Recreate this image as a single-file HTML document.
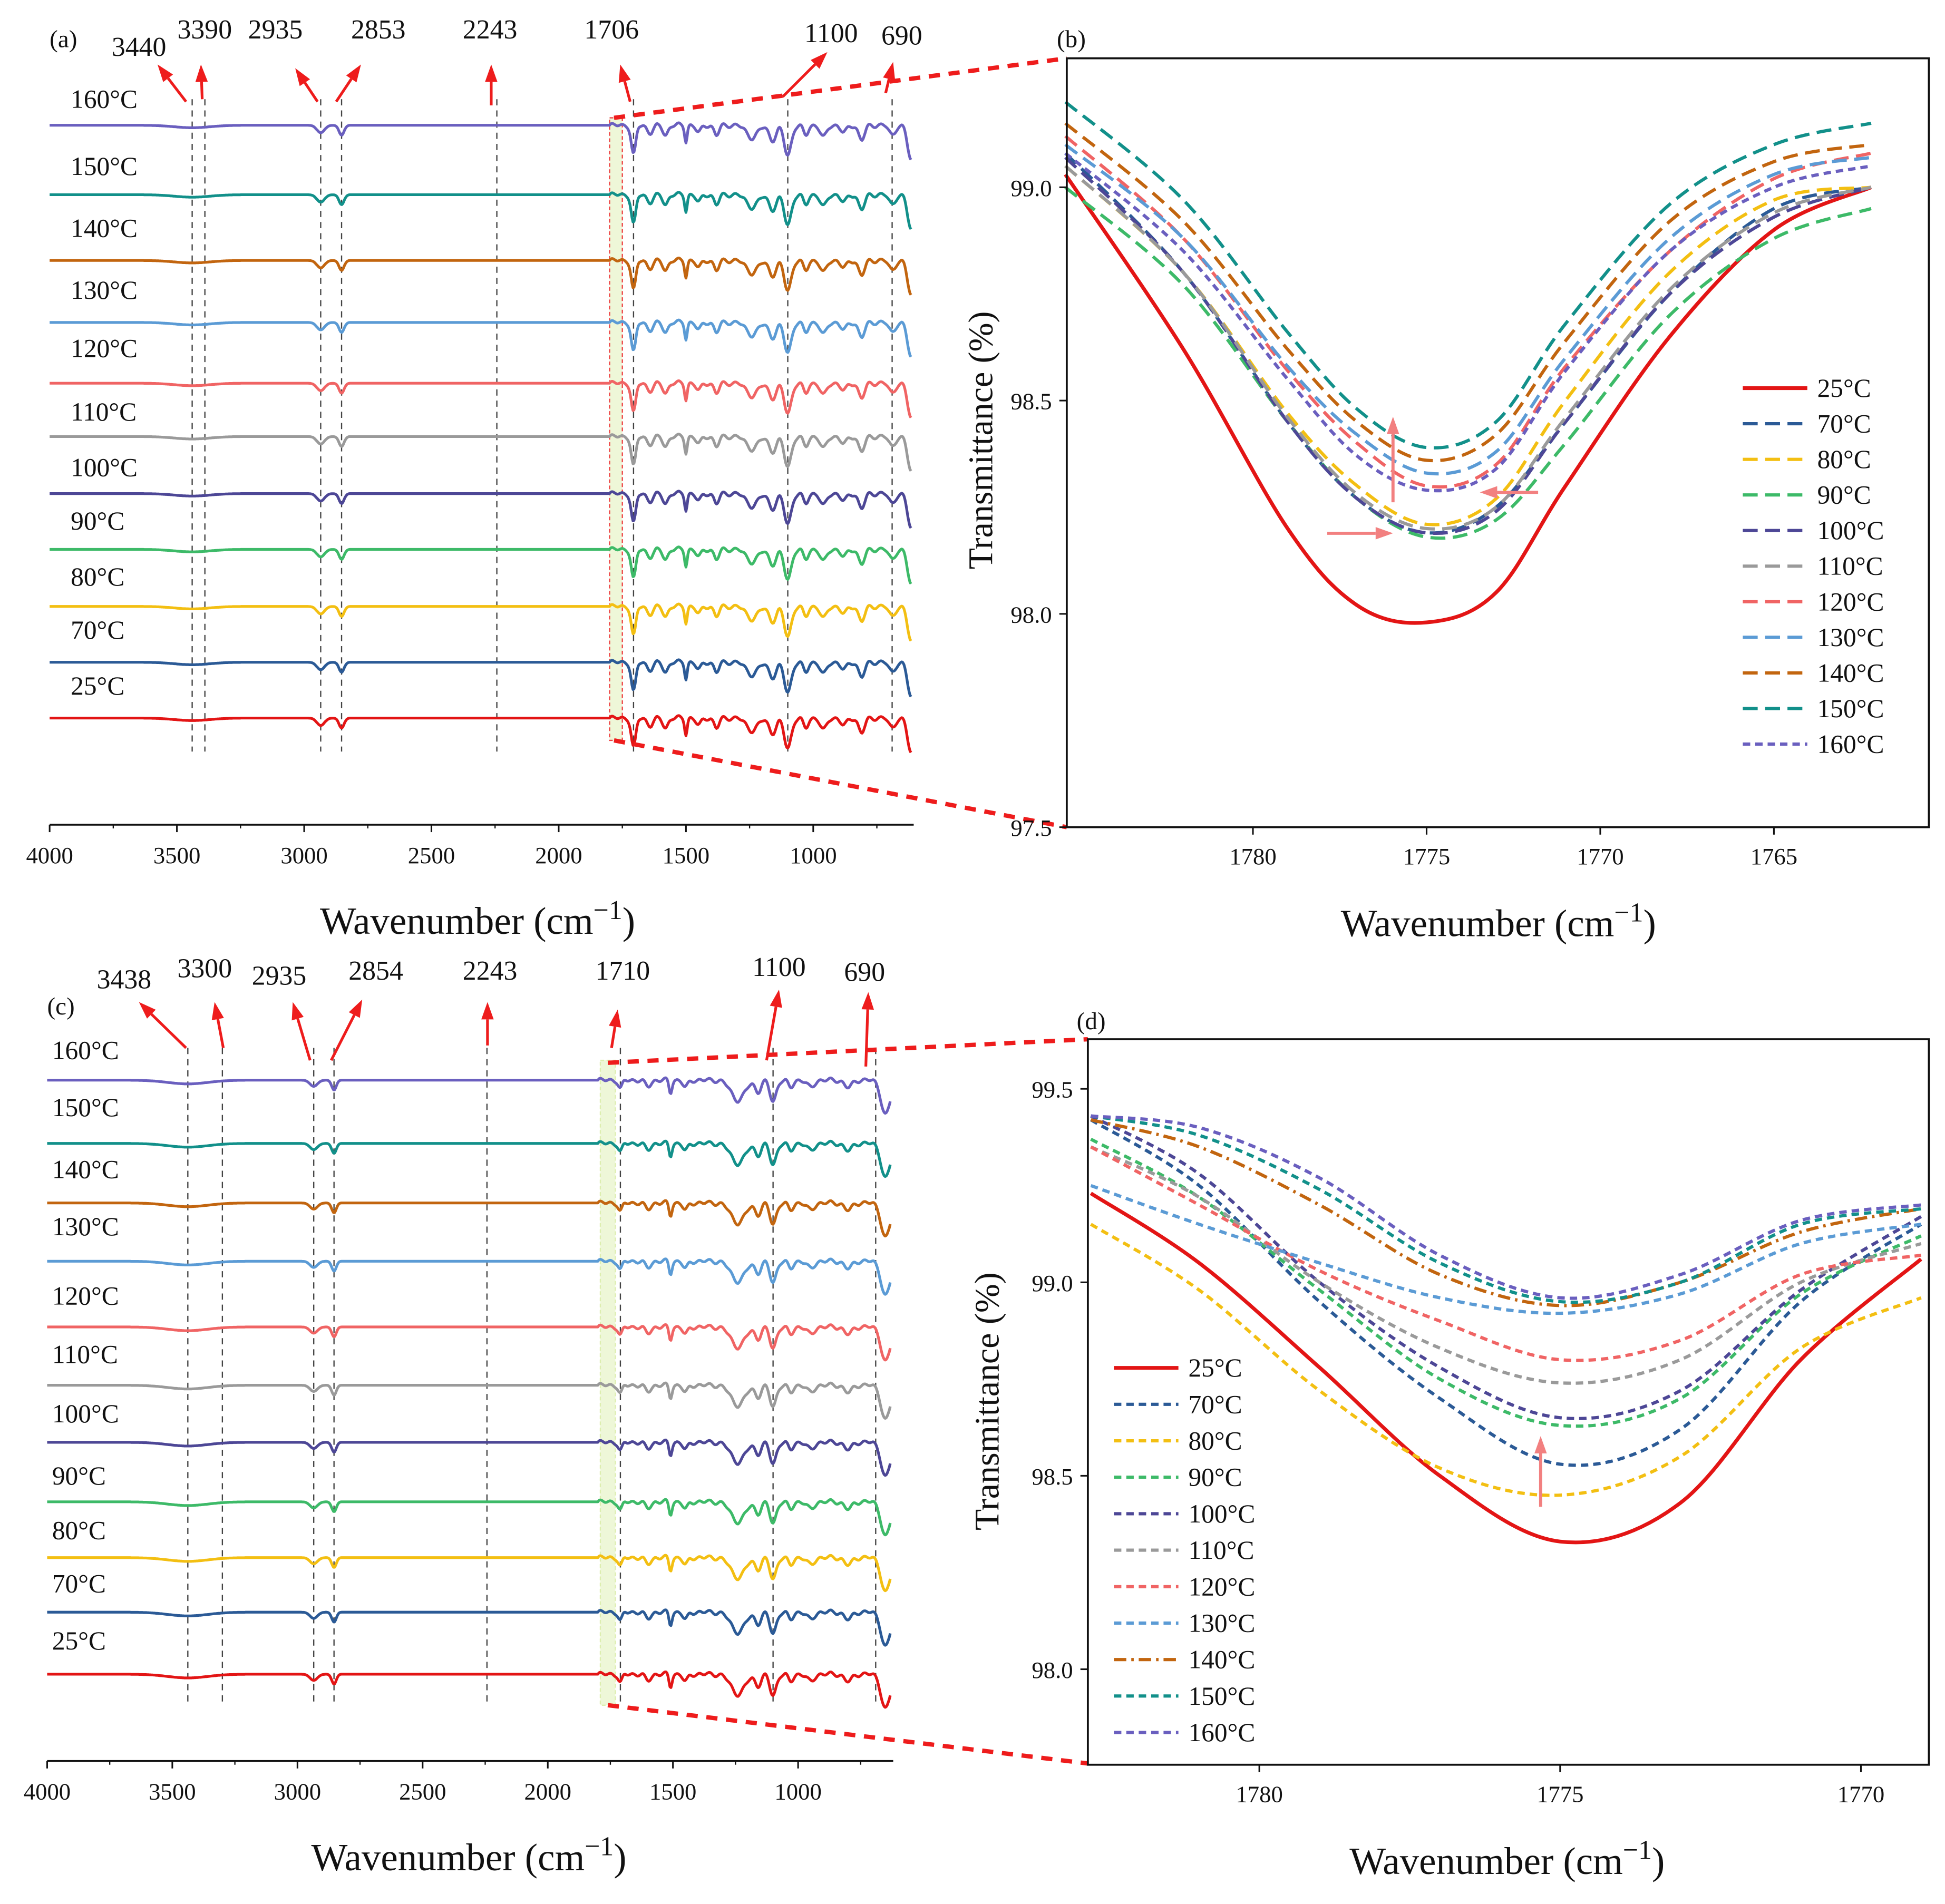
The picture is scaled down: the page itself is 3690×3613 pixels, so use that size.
<!DOCTYPE html>
<html><head><meta charset="utf-8"><style>
html,body{margin:0;padding:0;background:#fff;}
svg{display:block;font-family:"Liberation Serif",serif;}
</style></head><body>
<svg id="fig" width="3690" height="3613" viewBox="0 0 1568 1535.3" xmlns="http://www.w3.org/2000/svg"></svg>
<script>
// ---------- DATA ----------
const temps = ["160°C","150°C","140°C","130°C","120°C","110°C","100°C","90°C","80°C","70°C","25°C"];
const colors = ["#6a5fbf","#12908a","#c2650f","#5b9bd5","#f06464","#9a9a9a","#4d4796","#3dba68","#f3bf12","#2b5a96","#e31515"];
const aFeatWn = [3440,2935,2853,1706,1640,1580,1500,1450,1380,1240,1160,1100,1030,960,880,810,690,615];
const aFeatDepth = [2,6,8,24,6,8,13,6,8,10,12,24,8,10,6,12,8,28];
const aFeatWidth = [70,15,10,9,12,10,5,10,10,22,14,14,10,12,12,12,12,14];
const cFeatWn = [3438,2935,2854,1710,1600,1510,1450,1240,1160,1100,1030,950,800,650];
const cFeatDepth = [3,5,8,7,5,10,6,16,9,17,6,6,6,28];
const cFeatWidth = [80,15,9,8,12,6,10,28,12,13,10,14,15,18];
const aTicks=[4000,3500,3000,2500,2000,1500,1000];
const aMarks=[3440,3390,2935,2853,2243,1706,1100,690];
const cMarks=[3438,3300,2935,2854,2243,1710,1100,690];
const bX=[1785.4,1782,1779,1777,1775,1773,1771,1768,1765,1762.2];
const bLegend=["25°C","70°C","80°C","90°C","100°C","110°C","120°C","130°C","140°C","150°C","160°C"];
const bColors=["#e31515","#2b5a96","#f3bf12","#3dba68","#4d4796","#9a9a9a","#f06464","#5b9bd5","#c2650f","#12908a","#6a5fbf"];
const b25=[99.03,98.62,98.2,98.02,97.98,98.05,98.3,98.65,98.9,99.0];
const b70=[99.08,98.8,98.45,98.27,98.19,98.25,98.45,98.75,98.95,99.0];
const b80=[99.05,98.8,98.47,98.3,98.21,98.27,98.5,98.8,98.97,99.0];
const b90=[99.0,98.77,98.45,98.27,98.18,98.22,98.4,98.7,98.88,98.95];
const b100=[99.07,98.8,98.45,98.27,98.19,98.24,98.45,98.75,98.93,99.0];
const b110=[99.05,98.8,98.46,98.28,98.2,98.25,98.46,98.76,98.94,99.0];
const b120=[99.12,98.88,98.57,98.4,98.3,98.35,98.58,98.85,99.02,99.08];
const b130=[99.1,98.88,98.58,98.42,98.33,98.38,98.6,98.88,99.03,99.07];
const b140=[99.15,98.92,98.62,98.45,98.36,98.42,98.64,98.92,99.06,99.1];
const b150=[99.2,98.97,98.66,98.48,98.39,98.45,98.68,98.96,99.1,99.15];
const b160=[99.08,98.85,98.55,98.37,98.29,98.34,98.57,98.85,99.0,99.05];
const bTicksX=[1780,1775,1770,1765];
const bTicksY=[97.5,98.0,98.5,99.0];
const dX=[1782.8,1781,1779,1777,1775,1773,1771,1769];
const d25=[99.23,99.05,98.78,98.5,98.33,98.43,98.8,99.06];
const d70=[99.42,99.25,98.95,98.7,98.53,98.62,98.95,99.15];
const d80=[99.15,98.98,98.72,98.52,98.45,98.55,98.83,98.96];
const d90=[99.37,99.22,98.98,98.75,98.63,98.7,98.97,99.12];
const d100=[99.43,99.28,99.0,98.78,98.65,98.72,98.98,99.17];
const d110=[99.35,99.22,99.0,98.83,98.74,98.8,99.0,99.1];
const d120=[99.35,99.2,99.03,98.9,98.8,98.85,99.02,99.07];
const d130=[99.25,99.15,99.05,98.96,98.92,98.97,99.1,99.15];
const d140=[99.42,99.35,99.2,99.02,98.94,99.0,99.13,99.19];
const d150=[99.43,99.38,99.24,99.05,98.95,99.0,99.15,99.19];
const d160=[99.43,99.4,99.27,99.07,98.96,99.02,99.16,99.2];
const dTicksX=[1780,1775,1770];
const dTicksY=[98.0,98.5,99.0,99.5];

const NS="http://www.w3.org/2000/svg";
const svg=document.getElementById('fig');
function el(tag,attrs,parent){const e=document.createElementNS(NS,tag);for(const k in attrs)e.setAttribute(k,attrs[k]);(parent||svg).appendChild(e);return e;}
function txt(x,y,s,size,anchor,parent){const t=el('text',{x:x,y:y,'font-size':size,'text-anchor':anchor||'start',fill:'#111'},parent);t.textContent=s;return t;}
function smooth(pts){let d='M'+pts[0][0]+','+pts[0][1];for(let i=0;i<pts.length-1;i++){const p0=pts[Math.max(0,i-1)],p1=pts[i],p2=pts[i+1],p3=pts[Math.min(pts.length-1,i+2)];d+=' C'+(p1[0]+(p2[0]-p0[0])/6)+','+(p1[1]+(p2[1]-p0[1])/6)+' '+(p2[0]-(p3[0]-p1[0])/6)+','+(p2[1]-(p3[1]-p1[1])/6)+' '+p2[0]+','+p2[1];}return d;}
function arrow(x1,y1,x2,y2,color,w,parent){
  const g=el('g',{},parent);
  const ang=Math.atan2(y2-y1,x2-x1),L=14,W=5;
  const bx=x2-L*Math.cos(ang),by=y2-L*Math.sin(ang);
  el('line',{x1:x1,y1:y1,x2:bx,y2:by,stroke:color,'stroke-width':w},g);
  el('polygon',{points:x2+','+y2+' '+(bx+W*Math.sin(ang))+','+(by-W*Math.cos(ang))+' '+(bx-W*Math.sin(ang))+','+(by+W*Math.cos(ang)),fill:color},g);
  return g;
}

function spectraPanel(cfg){
  const g=el('g',{});
  
  
  const X=w=>cfg.x0+(4000-w)*cfg.k;
  const hb=el('rect',{x:X(cfg.hl[0]),y:cfg.hy[0],width:X(cfg.hl[1])-X(cfg.hl[0]),height:cfg.hy[1]-cfg.hy[0],fill:'#eef7d8',stroke:cfg.hlStroke,'stroke-width':1,'stroke-dasharray':'3,2'},g);
  
  
  cfg.marks.forEach((m,i)=>{
    const l=el('line',{x1:X(m),x2:X(m),y1:cfg.lineY[0],y2:cfg.lineY[1],stroke:'#444','stroke-width':1,'stroke-dasharray':'5,4'},g);
    
    
  });
  temps.forEach((t,i)=>{
    const base=cfg.bases[i];
    let d='';
    for(let w=4000;w>=cfg.wEnd;w-=4){
      let off=0;
      cfg.fw.forEach((fw,j)=>{const z=(w-fw)/cfg.fwid[j];off+=cfg.fd[j]*Math.exp(-z*z/2);});
      if(w<1800) off+= 1.2*Math.sin(w/7)+0.8*Math.sin(w/13);
      d+=(d?'L':'M')+X(w).toFixed(1)+','+(base+off).toFixed(1);
    }
    const p=el('path',{d:d,fill:'none',stroke:colors[i],'stroke-width':2.2,'stroke-linejoin':'round'},g);
    
    
    const lb=txt(cfg.labX,cfg.labY[i],t,21,'start',g);
    
    
  });
  el('line',{x1:cfg.x0,x2:X(cfg.wEnd)+2,y1:cfg.axY,y2:cfg.axY,stroke:'#111','stroke-width':1.5},g);
  aTicks.forEach(t=>{
    el('line',{x1:X(t),x2:X(t),y1:cfg.axY,y2:cfg.axY+6,stroke:'#111','stroke-width':1.3},g);
    el('line',{x1:X(t-250),x2:X(t-250),y1:cfg.axY,y2:cfg.axY+3,stroke:'#111','stroke-width':1},g);
    const tl=txt(X(t),cfg.axY+31,String(t),19,'middle',g);
    
    
  });
  const at=el('text',{x:cfg.titleX,y:cfg.axY+88,'font-size':31,'text-anchor':'middle',fill:'#111'},g);
  at.innerHTML='Wavenumber (cm<tspan dy="-12" font-size="22">−1</tspan><tspan dy="12">)</tspan>';
  
  
  cfg.arrows.forEach((a,i)=>{
    const ag=arrow(a[0],a[1],a[2],a[3],'#ee1c1c',2.2,g);
    
    
    const lt=txt(a[4],a[5],String(cfg.marks[i]),22,'middle',g);
    
    
  });
  const pl=txt(cfg.panel[0],cfg.panel[1],cfg.panel[2],20,'start',g);
  
  
  cfg.zoom.forEach(z=>el('line',{x1:z[0],y1:z[1],x2:z[2],y2:z[3],stroke:'#ee1c1c','stroke-width':3.5,'stroke-dasharray':'9,7'},g));
}

spectraPanel({name:'panel-a',x0:40,k:0.2052,wEnd:615,axY:665,titleX:385,
  bases:[101,157,210,260,309,352,398,443,489,534,579],
  labY:[87,141,191,241,288,339,384,427,472,515,560],labX:57,
  fw:aFeatWn,fd:aFeatDepth,fwid:aFeatWidth,marks:aMarks,lineY:[80,606],
  hl:[1800,1750],hy:[95,597],hlStroke:'#ee4444',
  arrows:[[150,82,127,52,112,45],[163,80,162,52,165,31],[256,82,238,55,222,31],[271,82,291,52,305,31],[396,85,396,52,395,31],[508,82,500,52,493,31],[631,78,667,42,670,34],[714,75,720,50,727,36]],
  panel:[40,38,'(a)'],zoom:[[495,95,860,47],[495,597,860,667]]});

spectraPanel({name:'panel-c',x0:38,k:0.2018,wEnd:630,axY:1420,titleX:378,
  bases:[871,922,970,1017,1070,1117,1163,1211,1256,1300,1350],
  labY:[854,900,950,996,1052,1099,1147,1197,1241,1284,1330],labX:42,
  fw:cFeatWn,fd:cFeatDepth,fwid:cFeatWidth,marks:cMarks,lineY:[845,1376],
  hl:[1790,1730],hy:[855,1375],hlStroke:'#ddeeb0',
  arrows:[[150,845,112,808,100,797],[180,845,173,808,165,788],[250,855,236,808,225,794],[267,855,292,806,303,790],[393,843,393,808,395,790],[493,845,498,814,502,790],[618,855,628,798,628,787],[698,860,700,800,697,791]],
  panel:[38,818,'(c)'],zoom:[[490,857,877,838],[490,1375,877,1422]]});

function zoomPanel(cfg){
  const g=el('g',{});
  
  
  const X=v=>cfg.x0+(cfg.xmax-v)*cfg.kx;
  const Y=v=>cfg.y0-(v-cfg.ybase)*cfg.ky;
  cfg.series.forEach((s,i)=>{
    const pts=cfg.xs.map((x,j)=>[X(x),Y(s[j])]);
    const p=el('path',{d:smooth(pts),fill:'none',stroke:bColors[i],'stroke-width':i==0?3:2.6,'stroke-dasharray':cfg.dash[i]},g);
    
    
    const ly=cfg.legY+i*cfg.legStep;
    const ll=el('line',{x1:cfg.legX,x2:cfg.legX+52,y1:ly,y2:ly,stroke:bColors[i],'stroke-width':i==0?3:2.6,'stroke-dasharray':cfg.dash[i]},g);
    
    
    const lt=txt(cfg.legX+60,ly+7,bLegend[i],21,'start',g);
    
    
  });
  const fr=el('rect',{x:cfg.box[0],y:cfg.box[1],width:cfg.box[2]-cfg.box[0],height:cfg.box[3]-cfg.box[1],fill:'none',stroke:'#111','stroke-width':1.6},g);
  
  
  cfg.tx.forEach(t=>{
    el('line',{x1:X(t),x2:X(t),y1:cfg.box[3],y2:cfg.box[3]+6,stroke:'#111','stroke-width':1.3},g);
    const tl=txt(X(t),cfg.box[3]+30,String(t),19,'middle',g);
    
    
  });
  cfg.ty.forEach(t=>{
    el('line',{x1:cfg.box[0]-6,x2:cfg.box[0],y1:Y(t),y2:Y(t),stroke:'#111','stroke-width':1.3},g);
    const tl=txt(cfg.box[0]-12,Y(t)+7,t.toFixed(1),19,'end',g);
    
    
  });
  const at=el('text',{x:cfg.titleX,y:cfg.box[3]+88,'font-size':31,'text-anchor':'middle',fill:'#111'},g);
  at.innerHTML='Wavenumber (cm<tspan dy="-12" font-size="22">−1</tspan><tspan dy="12">)</tspan>';
  
  
  const yt=el('text',{x:0,y:0,'font-size':28,'text-anchor':'middle',fill:'#111',transform:'translate('+cfg.yTitle[0]+','+cfg.yTitle[1]+') rotate(-90)'},g);
  yt.textContent='Transmittance (%)';
  
  
  const pl=txt(cfg.panel[0],cfg.panel[1],cfg.panel[2],20,'start',g);
  
  
  cfg.arrows.forEach(a=>{const ag=arrow(a[0],a[1],a[2],a[3],'#f28080',2.5,g);});
}
const solid='none',dsh='12,6',dot='6,4';
zoomPanel({name:'panel-b',x0:860,xmax:1785.36,kx:28,y0:151,ybase:99.0,ky:344,
  xs:bX,series:[b25,b70,b80,b90,b100,b110,b120,b130,b140,b150,b160],
  dash:[solid,dsh,dsh,dsh,dsh,dsh,dsh,dsh,dsh,dsh,dot],
  box:[860,47,1555,667],tx:bTicksX,ty:bTicksY,titleX:1208,yTitle:[800,355],
  legX:1405,legY:313,legStep:28.7,panel:[852,38,'(b)'],
  arrows:[[1123,405,1123,336],[1240,397,1193,397],[1070,430,1123,430]]});
zoomPanel({name:'panel-d',x0:877,xmax:1782.85,kx:48.5,y0:1034,ybase:99.0,ky:312,
  xs:dX,series:[d25,d70,d80,d90,d100,d110,d120,d130,d140,d150,d160],
  dash:[solid,dot,dot,dot,dot,dot,dot,dot,'10,4,2,4',dot,dot],
  box:[877,838,1555,1423],tx:dTicksX,ty:dTicksY,titleX:1215,yTitle:[805,1130],
  legX:898,legY:1103,legStep:29.4,panel:[868,830,'(d)'],
  arrows:[[1242,1215,1242,1158]]});
</script>
</body></html>
